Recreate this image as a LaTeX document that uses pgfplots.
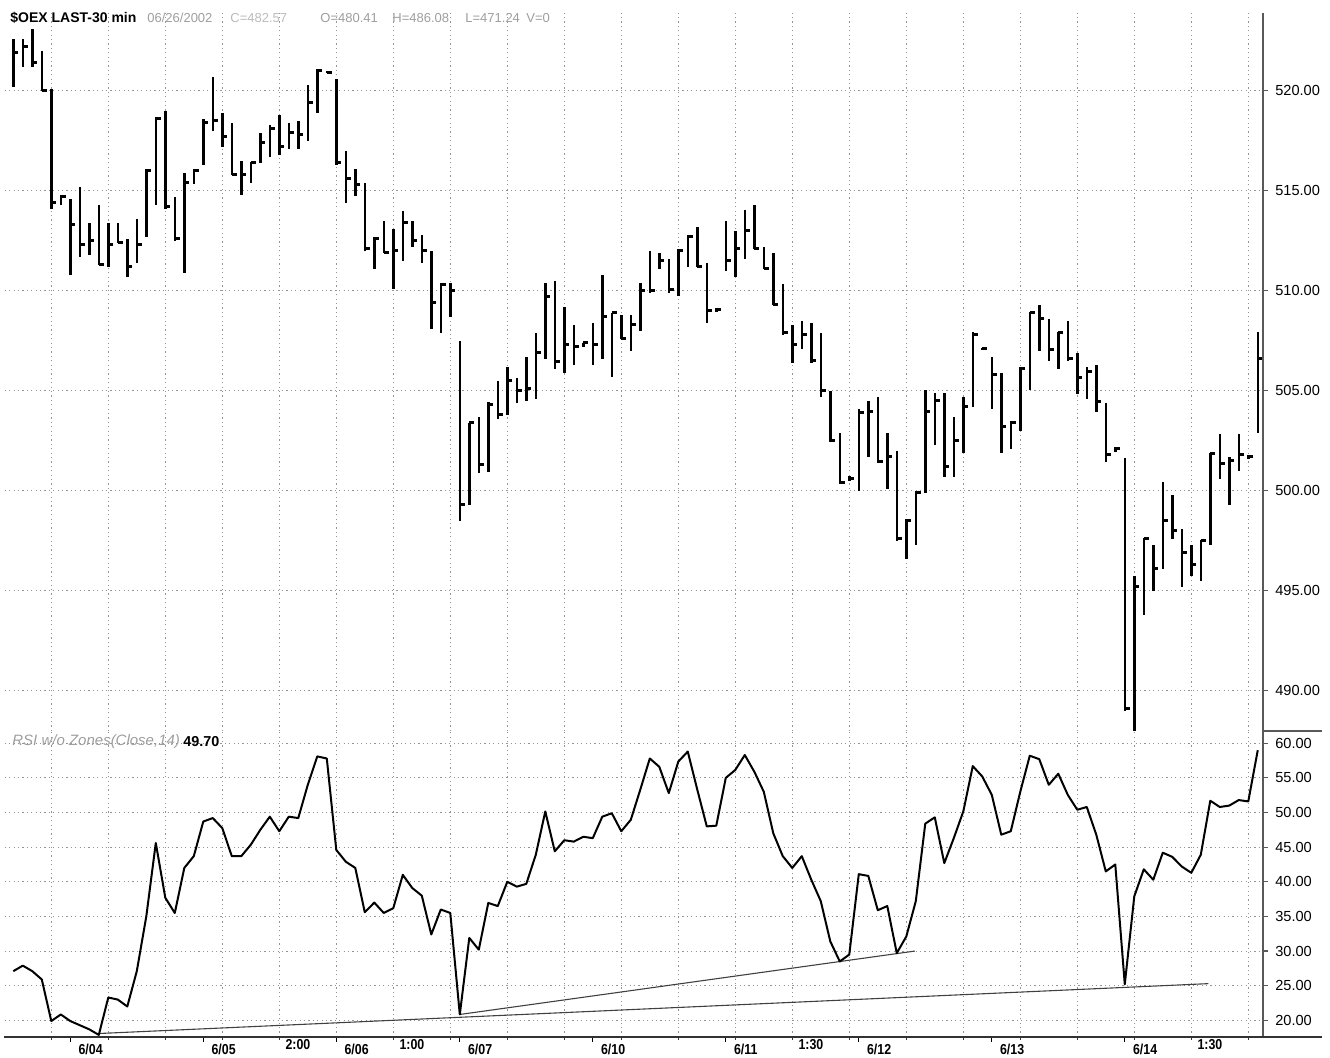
\documentclass[border=0pt]{standalone}
\usepackage{fontspec}
\setmainfont{Liberation Sans}
\newfontfamily\cond{Liberation Sans}[FakeStretch=0.86]
\usepackage{pgfplots}
\pgfplotsset{compat=1.18}
\usepackage{pgfplotstable}

\pgfdeclareplotmark{closetick}{\pgfpathmoveto{\pgfqpoint{0pt}{0pt}}\pgfpathlineto{\pgfqpoint{2.4pt}{0pt}}\pgfusepathqstroke}

\pgfplotstableread{
i H L C
0 522.6 520.2 521.9
1 522.56 521.2 522.2
2 523.1 521.2 521.4
3 522.0 520.0 520.0
4 520.1 514.1 514.4
5 514.8 514.3 514.7
6 514.6 510.8 513.3
7 515.2 511.7 512.3
8 513.4 511.8 512.5
9 514.3 511.3 511.3
10 513.4 511.2 512.3
11 513.4 512.4 512.4
12 512.6 510.7 511.2
13 513.6 511.4 512.3
14 516.1 512.7 516.0
15 518.7 514.3 518.6
16 519.0 514.1 514.2
17 514.7 512.5 512.6
18 515.9 510.9 515.4
19 516.1 515.35 516.0
20 518.6 516.3 518.4
21 520.7 518.0 518.5
22 518.9 517.2 517.7
23 518.4 515.8 515.8
24 516.5 514.8 515.8
25 516.45 515.4 516.4
26 517.9 516.4 517.4
27 518.3 516.7 518.1
28 518.8 516.8 517.2
29 518.4 517.1 517.9
30 518.5 517.1 517.8
31 520.3 517.5 519.4
32 521.1 518.9 521.0
33 521.0 520.9 520.9
34 520.6 516.3 516.4
35 517.0 514.4 515.6
36 516.1 514.75 515.3
37 515.4 512.0 512.1
38 512.7 511.1 512.6
39 513.5 511.9 511.9
40 513.1 510.1 512.0
41 514.0 511.5 513.4
42 513.5 512.2 512.5
43 512.8 511.4 512.0
44 512.0 508.1 509.4
45 510.4 507.9 510.3
46 510.4 508.7 510.0
47 507.5 498.5 499.3
48 503.4 499.3 503.4
49 503.7 500.9 501.3
50 504.45 500.95 504.3
51 505.5 503.6 503.8
52 506.2 503.8 505.5
53 505.65 504.4 505.0
54 506.7 504.5 505.1
55 507.9 504.6 506.9
56 510.4 506.6 509.7
57 510.5 506.1 506.45
58 509.2 505.9 507.3
59 508.3 506.3 507.2
60 507.4 507.2 507.4
61 508.4 506.3 507.3
62 510.8 506.6 508.7
63 508.9 505.7 508.9
64 508.8 507.6 507.6
65 508.8 507.0 508.3
66 510.4 508.0 510.0
67 512.0 509.9 510.0
68 511.9 511.1 511.5
69 511.6 509.9 510.05
70 512.1 509.75 512.0
71 512.8 511.2 512.7
72 513.2 511.2 511.2
73 511.4 508.4 509.0
74 509.15 508.95 509.05
75 513.5 511.0 511.5
76 513.0 510.7 512.1
77 514.05 511.6 513.0
78 514.3 512.1 512.1
79 512.2 511.1 511.1
80 511.9 509.3 509.3
81 510.35 507.8 507.9
82 508.3 506.4 507.3
83 508.5 507.1 507.8
84 508.4 506.4 506.5
85 507.9 504.7 505.0
86 505.0 502.45 502.5
87 502.9 500.35 500.4
88 500.75 500.5 500.6
89 504.1 500.0 503.9
90 504.5 501.7 503.95
91 504.7 501.4 501.45
92 502.9 500.1 501.7
93 502.0 497.5 497.6
94 498.6 496.6 498.5
95 500.0 497.3 499.9
96 505.05 499.9 503.95
97 504.9 502.3 504.5
98 504.9 500.7 501.2
99 503.7 500.7 502.5
100 504.7 501.9 504.2
101 507.95 504.2 507.8
102 507.15 507.05 507.1
103 506.7 504.1 505.8
104 505.9 501.9 503.2
105 503.5 502.1 503.4
106 506.2 503.0 506.1
107 508.95 505.05 508.9
108 509.3 507.0 508.6
109 508.6 506.5 507.05
110 507.95 506.1 507.9
111 508.5 506.5 506.6
112 506.9 504.85 505.65
113 506.2 504.6 505.95
114 506.3 503.95 504.45
115 504.4 501.45 501.8
116 502.2 501.95 502.1
117 501.65 489.0 489.1
118 495.75 487.9 495.2
119 497.65 493.8 497.6
120 497.3 495.0 496.1
121 500.45 496.1 498.5
122 499.8 497.6 498.0
123 498.1 495.2 496.9
124 497.3 495.75 496.3
125 497.55 495.5 497.5
126 501.9 497.3 501.85
127 502.85 500.6 501.35
128 501.7 499.3 501.5
129 502.85 501.0 501.8
130 501.8 501.6 501.7
131 507.95 502.9 506.6
}\ohlc

\pgfplotstableread{
i R
0 27.1
1 27.9
2 27.1
3 25.9
4 19.9
5 20.85
6 19.9
7 19.3
8 18.7
9 17.9
10 23.3
11 23.0
12 22.0
13 27.1
14 35.0
15 45.6
16 37.7
17 35.5
18 42.0
19 43.7
20 48.7
21 49.2
22 47.75
23 43.7
24 43.7
25 45.35
26 47.5
27 49.4
28 47.3
29 49.4
30 49.2
31 54.0
32 58.1
33 57.8
34 44.6
35 42.9
36 42.0
37 35.6
38 37.0
39 35.5
40 36.2
41 41.0
42 39.1
43 38.0
44 32.4
45 36.0
46 35.5
47 20.85
48 31.9
49 30.2
50 36.95
51 36.5
52 40.0
53 39.3
54 39.7
55 43.9
56 50.15
57 44.4
58 46.0
59 45.8
60 46.5
61 46.3
62 49.4
63 49.9
64 47.3
65 48.95
66 53.3
67 57.8
68 56.6
69 52.8
70 57.35
71 58.8
72 53.3
73 48.0
74 48.1
75 55.0
76 56.15
77 58.3
78 55.9
79 53.0
80 47.0
81 43.7
82 42.0
83 43.7
84 40.3
85 37.2
86 31.4
87 28.5
88 29.5
89 41.1
90 40.85
91 35.9
92 36.5
93 29.7
94 32.1
95 37.2
96 48.4
97 49.3
98 42.7
99 46.3
100 50.15
101 56.7
102 55.2
103 52.55
104 46.8
105 47.3
106 53.0
107 58.2
108 57.7
109 54.0
110 55.6
111 52.55
112 50.4
113 50.8
114 46.8
115 41.5
116 42.5
117 25.2
118 37.9
119 41.8
120 40.3
121 44.2
122 43.6
123 42.2
124 41.3
125 43.9
126 51.7
127 50.8
128 51.0
129 51.8
130 51.6
131 59.0
}\rsi

\definecolor{gridc}{gray}{0.58}
\definecolor{axc}{gray}{0.35}
\definecolor{txtgray}{gray}{0.62}

\pgfplotsset{
  chartbase/.style={
    scale only axis, width=629.125pt,
    xmin=-0.9, xmax=131.55,
    axis line style={draw=none},
    tick align=outside,
    ytick pos=right, yticklabel pos=right,
    xtick pos=bottom,
    /pgf/number format/assume math mode=true,
    yticklabel style={font=\fontsize{7.3}{8}\selectfont, /pgf/number format/.cd, fixed, fixed zerofill, precision=2},
    ytick style={axc, line width=0.6pt},
    major tick length=2.6pt,
    ymajorgrids, 
    major grid style={gridc, line width=0.55pt, dash pattern=on 0.6pt off 1.6pt},
    minor grid style={gridc, line width=0.55pt, dash pattern=on 0.6pt off 1.6pt},
  }
}

\begin{document}
\begin{tikzpicture}
\useasboundingbox (0,0) rectangle (665pt,529pt);

% ---------- price panel ----------
\begin{axis}[chartbase,
  at={(2.375pt,163.5pt)}, anchor=south west, height=359pt,
  ymin=487.985, ymax=523.885,
  ytick={490,495,...,520},
  xtick={4,10,...,130}, xticklabels={}, xmajorgrids,
  xtick style={draw=none},
]
\addplot[draw=none, mark=none, forget plot,
  error bars/.cd, y dir=plus, y explicit, error mark=none,
  error bar style={draw=black, line width=1.25pt}]
  table[x=i, y=L, y error expr=\thisrow{H}-\thisrow{L}] {\ohlc};
\addplot[only marks, mark=closetick, mark options={line width=1.2pt, black}]
  table[x=i, y=C] {\ohlc};
\end{axis}

% ---------- RSI panel ----------
\begin{axis}[chartbase,
  at={(2.375pt,10.5pt)}, anchor=south west, height=153pt,
  ymin=17.6, ymax=61.77,
  ytick={20,25,...,60},
  xtick={6,20,34,47,61,75,89,103,117},
  xticklabels={6/04,6/05,6/06,6/07,6/10,6/11,6/12,6/13,6/14},
  xticklabel style={font=\cond\bfseries\fontsize{7.2}{8}\selectfont, anchor=north west, xshift=0.6pt, yshift=2.4pt},
  xtick style={black, line width=0.5pt},
  extra x ticks={29,41,83,125},
  extra x tick labels={2:00,1:00,1:30,1:30},
  extra x tick style={major tick length=0pt, xticklabel style={anchor=north, xshift=4pt, yshift=-0.2pt}},
  minor xtick={4,10,...,130}, xminorgrids, minor tick length=1.5pt,
  minor x tick style={black!80, line width=0.5pt},
]
\addplot[black!75, line width=0.55pt] coordinates {(9,18.1) (125.8,25.3)};
\addplot[black!75, line width=0.55pt] coordinates {(47,20.85) (94.9,30.0)};
\addplot[black, line width=1pt, line join=round] table[x=i, y=R] {\rsi};
\end{axis}

% axis frame lines
\draw[axc, line width=0.7pt] (631.5pt,522.5pt) -- (631.5pt,10.5pt);
\draw[black!80, line width=0.6pt] (2pt,10.5pt) -- (661pt,10.5pt);
\draw[axc, line width=0.6pt] (631.5pt,163.5pt) -- (661pt,163.5pt);

% headers
\node[anchor=west, inner sep=0pt] at (5pt,520pt) {\bfseries\fontsize{7}{8}\selectfont \$OEX LAST-30 min};
\node[anchor=west, inner sep=0pt, text=txtgray] at (73.5pt,520pt) {\fontsize{6.5}{8}\selectfont 06/26/2002};
\node[anchor=west, inner sep=0pt, text=txtgray!70] at (115pt,520pt) {\fontsize{6.5}{8}\selectfont C=482.57};
\node[anchor=west, inner sep=0pt, text=txtgray] at (160pt,520pt) {\fontsize{6.5}{8}\selectfont O=480.41};
\node[anchor=west, inner sep=0pt, text=txtgray] at (196pt,520pt) {\fontsize{6.5}{8}\selectfont H=486.08};
\node[anchor=west, inner sep=0pt, text=txtgray] at (232.5pt,520pt) {\fontsize{6.5}{8}\selectfont L=471.24};
\node[anchor=west, inner sep=0pt, text=txtgray] at (263pt,520pt) {\fontsize{6.5}{8}\selectfont V=0};
\node[anchor=west, inner sep=0pt, text=txtgray] at (6pt,158.2pt) {\fontsize{7.5}{8}\selectfont\itshape RSI w/o Zones(Close,14)};
\node[anchor=west, inner sep=0pt] at (91.5pt,158.2pt) {\bfseries\fontsize{7.2}{8}\selectfont 49.70};
\end{tikzpicture}
\end{document}
